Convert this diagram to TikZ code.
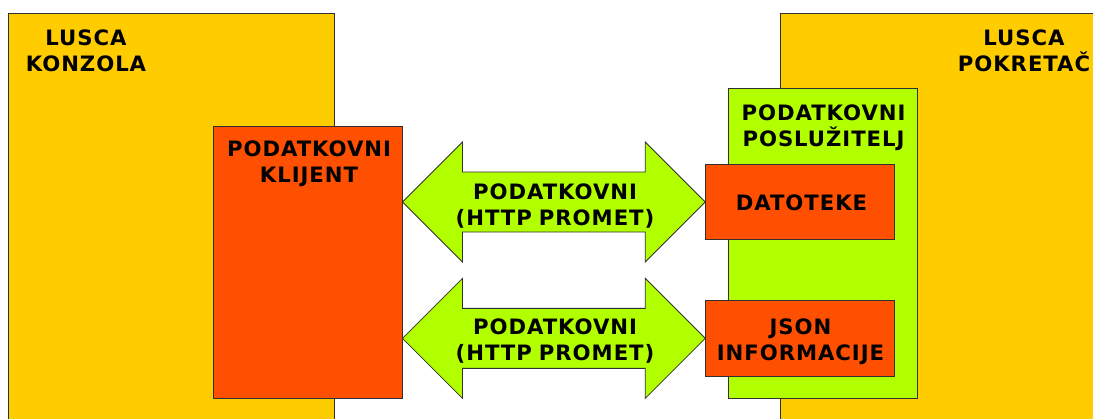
\documentclass[tikz,border=0pt]{standalone}
\usepackage{fontspec}
\setmainfont{DejaVu Sans}
\newfontfamily\lblfont[LetterSpace=4.5]{DejaVu Sans}
\usetikzlibrary{calc}
\definecolor{lyellow}{HTML}{FFCC00}
\definecolor{lred}{HTML}{FF4F00}
\definecolor{lgreen}{HTML}{B2FF00}
\definecolor{edge}{HTML}{303030}
\tikzset{
  box/.style={draw=edge, line width=0.9pt, inner sep=0pt, outer sep=0pt, anchor=north west},
  lbl/.style={inner sep=0pt, anchor=base, text width=240pt, align=center,
              font=\lblfont\fontsize{21.2}{26}\selectfont\bfseries},
  flow/.style={draw=edge, line width=0.8pt, fill=lgreen, line join=miter},
}
\begin{document}
\begin{tikzpicture}[x=1pt,y=-1pt]
\useasboundingbox (0,0) rectangle (1093,418);
\clip (0,0) rectangle (1093,418);
% outer containers
\node[box, fill=lyellow, minimum width=326pt, minimum height=430pt] (konzola) at (8.5,13.5) {};
\node[box, fill=lyellow, minimum width=330pt, minimum height=430pt] (pokretac) at (780.7,13.3) {};
% inner boxes
\node[box, fill=lred, minimum width=189.5pt, minimum height=272pt] (klijent) at (213,126.5) {};
\node[box, fill=lgreen, minimum width=188.7pt, minimum height=309.6pt] (posluzitelj) at (728.3,88.7) {};
\node[box, fill=lred, minimum width=189pt, minimum height=75.4pt] (datoteke) at (705.3,164.3) {};
\node[box, fill=lred, minimum width=189pt, minimum height=75.3pt] (json) at (705.3,300.7) {};
% double arrows
\coordinate (a1L) at (klijent.east |- datoteke.west);
\coordinate (a1R) at (datoteke.west);
\coordinate (a2L) at (klijent.east |- json.west);
\coordinate (a2R) at (json.west);
\draw[flow] (a1L) -- ++(60,-60) -- ++(0,30) -- ($(a1R)+(-60,-30)$) -- ++(0,-30) -- (a1R)
  -- ++(-60,60) -- ++(0,-30) -- ($(a1L)+(60,30)$) -- ++(0,30) -- cycle;
\draw[flow] (a2L) -- ++(60,-60) -- ++(0,30) -- ($(a2R)+(-60,-30)$) -- ++(0,-30) -- (a2R)
  -- ++(-60,60) -- ++(0,-30) -- ($(a2L)+(60,30)$) -- ++(0,30) -- cycle;
% labels
\node[lbl] (tkonzola) at (86,45) {LUSCA\\KONZOLA};
\node[lbl] (tpokretac) at (1024,45) {LUSCA\\POKRETAČ};
\node[lbl] (tklijent) at (309,156.7) {PODATKOVNI\\KLIJENT};
\node[lbl] (tposluzitelj) at (823.5,120) {PODATKOVNI\\POSLUŽITELJ};
\node[lbl] (tdatoteke) at (801.5,210.7) {DATOTEKE};
\node[lbl] (tjson) at (800.5,334.3) {JSON\\INFORMACIJE};
\node[lbl] (tpromet1) at (555,199) {PODATKOVNI\\(HTTP PROMET)};
\node[lbl] (tpromet2) at (555,334) {PODATKOVNI\\(HTTP PROMET)};
\end{tikzpicture}
\end{document}
